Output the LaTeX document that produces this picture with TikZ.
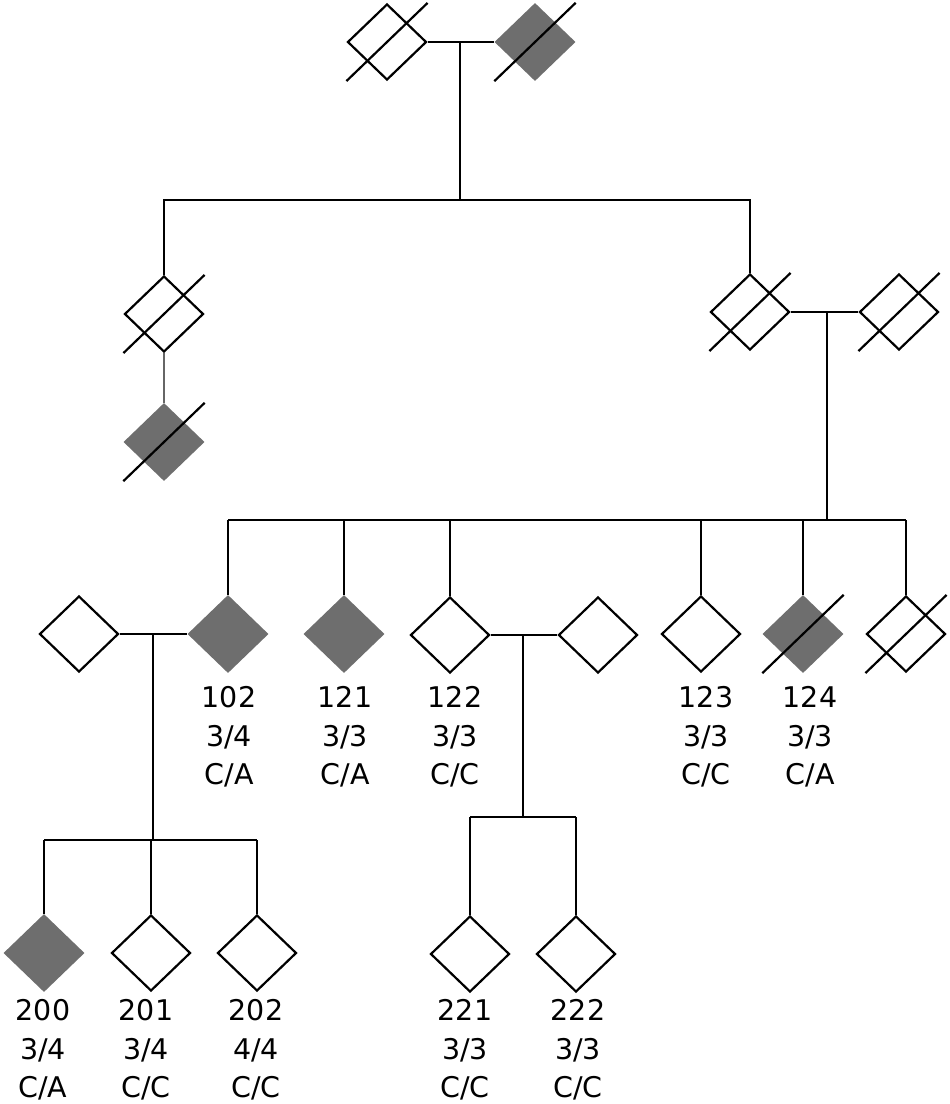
\documentclass[tikz,border=0pt]{standalone}
\usepackage{fontspec}
\setmainfont{DejaVu Sans}
\usetikzlibrary{shapes.geometric}
\definecolor{affgray}{RGB}{110,110,110}
\begin{document}
\begin{tikzpicture}[x=1pt,y=-1pt,
  person/.style={diamond, draw=black, line width=2.2pt, minimum width=79pt, minimum height=76pt, inner sep=0pt, fill=white},
  affected/.style={diamond, draw=none, fill=affgray, minimum width=81pt, minimum height=78pt, inner sep=0pt},
  conn/.style={draw=black, line width=2.1pt},
  thinconn/.style={draw=black!60, line width=1.5pt},
  slash/.style={draw=black, line width=2.2pt},
  lbl/.style={align=center, inner sep=0pt, font=\fontsize{28.5}{38.5}\selectfont}]
\useasboundingbox[fill=white] (0,0) rectangle (950,1104);

% generation I
\node[person]   (A1) at (387,42) {};
\node[affected] (A2) at (535,42) {};
% generation II
\node[person]   (B1) at (164,314) {};
\node[affected] (B2) at (164,442) {};
\node[person]   (B3) at (750,312) {};
\node[person]   (B4) at (899,312) {};
% generation III
\node[person]   (C101) at (79,634) {};
\node[affected] (C102) at (228,634) {};
\node[affected] (C121) at (344,634) {};
\node[person]   (C122) at (450,635) {};
\node[person]   (C126) at (598,635) {};
\node[person]   (C123) at (701,634) {};
\node[affected] (C124) at (803,634) {};
\node[person]   (C125) at (906,634) {};
% generation IV
\node[affected] (D200) at (44,953) {};
\node[person]   (D201) at (151,953) {};
\node[person]   (D202) at (257,953) {};
\node[person]   (D221) at (470,954) {};
\node[person]   (D222) at (576,954) {};

% deceased slashes
\foreach \n in {A1,A2,B1,B2,B3,B4,C124,C125}
  \draw[slash] (\n.west |- \n.south) -- (\n.east |- \n.north);

% helper coordinates
\coordinate (m1) at (460,42);
\coordinate (s1) at (460,200);
\coordinate (m2) at (827,312);
\coordinate (s2) at (827,520);
\coordinate (m3) at (153,634);
\coordinate (s3) at (153,840);
\coordinate (m4) at (523,635);
\coordinate (s4) at (523,817);

% generation I -> II
\draw[conn] (A1.east) -- (A2.west);
\draw[conn] (m1) -- (s1);
\draw[conn] (B1.north) -- (B1.north |- s1) -- (B3.north |- s1) -- (B3.north);
\draw[thinconn] (B1.south) -- (B2.north);

% generation II -> III
\draw[conn] (B3.east) -- (B4.west);
\draw[conn] (m2) -- (s2);
\draw[conn] (C102.north |- s2) -- (C125.north |- s2);
\foreach \c in {C102,C121,C122,C123,C124,C125}
  \draw[conn] (\c.north) -- (\c.north |- s2);

% generation III -> IV
\draw[conn] (C101.east) -- (C102.west);
\draw[conn] (m3) -- (s3);
\draw[conn] (D200.north |- s3) -- (D202.north |- s3);
\foreach \c in {D200,D201,D202}
  \draw[conn] (\c.north) -- (\c.north |- s3);

\draw[conn] (C122.east) -- (C126.west);
\draw[conn] (m4) -- (s4);
\draw[conn] (D221.north |- s4) -- (D222.north |- s4);
\foreach \c in {D221,D222}
  \draw[conn] (\c.north) -- (\c.north |- s4);

% labels
\node[lbl] (L102) at (229,737) {102\\3/4\\C/A};
\node[lbl] (L121) at (345,737) {121\\3/3\\C/A};
\node[lbl] (L122) at (455,737) {122\\3/3\\C/C};
\node[lbl] (L123) at (706,737) {123\\3/3\\C/C};
\node[lbl] (L124) at (810,737) {124\\3/3\\C/A};
\node[lbl] (L200) at (43,1050) {200\\3/4\\C/A};
\node[lbl] (L201) at (146,1050) {201\\3/4\\C/C};
\node[lbl] (L202) at (256,1050) {202\\4/4\\C/C};
\node[lbl] (L221) at (465,1050) {221\\3/3\\C/C};
\node[lbl] (L222) at (578,1050) {222\\3/3\\C/C};
\end{tikzpicture}
\end{document}
